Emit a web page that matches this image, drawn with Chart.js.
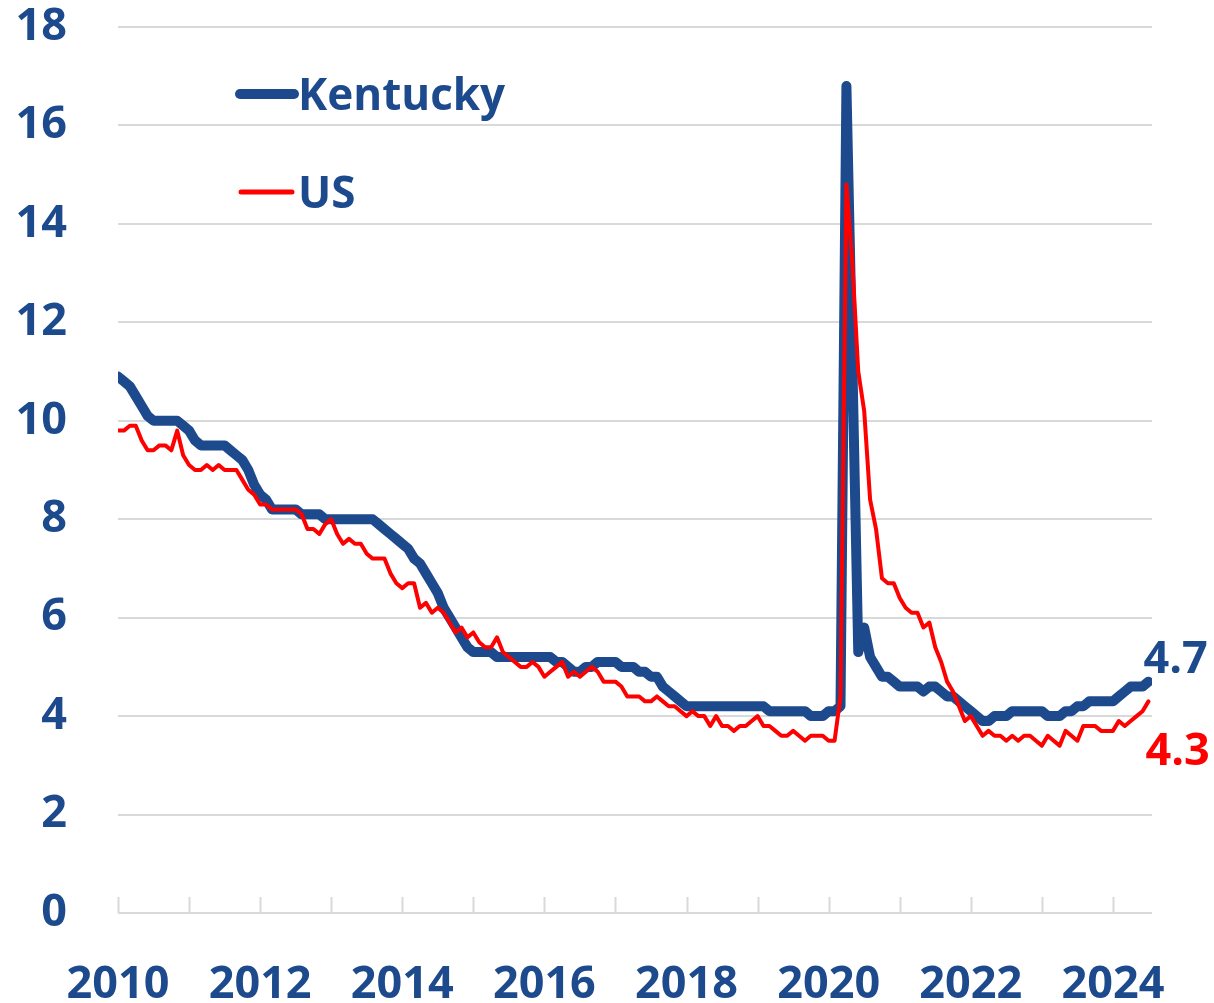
<!DOCTYPE html>
<html>
<head>
<meta charset="utf-8">
<script src="https://cdn.jsdelivr.net/npm/chart.js@4.4.1/dist/chart.umd.min.js"></script>
<style>
  html, body { margin: 0; padding: 0; background: #ffffff; }
  #wrap { width: 1214px; height: 1003px; position: relative; }
</style>
</head>
<body>
<div id="wrap"><canvas id="c" width="1214" height="1003"></canvas></div>
<script>
// ---- Data (monthly, Jan 2010 .. Jul 2024) ----
const startYear = 2010;
const seriesNames = ['Kentucky', 'US'];
const kentucky = [
  10.9, 10.8, 10.7, 10.5, 10.3, 10.1, 10.0, 10.0, 10.0, 10.0, 10.0, 9.9,
  9.8, 9.6, 9.5, 9.5, 9.5, 9.5, 9.5, 9.4, 9.3, 9.2, 9.0, 8.7,
  8.5, 8.4, 8.2, 8.2, 8.2, 8.2, 8.2, 8.1, 8.1, 8.1, 8.1, 8.0,
  8.0, 8.0, 8.0, 8.0, 8.0, 8.0, 8.0, 8.0, 7.9, 7.8, 7.7, 7.6,
  7.5, 7.4, 7.2, 7.1, 6.9, 6.7, 6.5, 6.2, 6.0, 5.8, 5.6, 5.4,
  5.3, 5.3, 5.3, 5.3, 5.2, 5.2, 5.2, 5.2, 5.2, 5.2, 5.2, 5.2,
  5.2, 5.2, 5.1, 5.1, 5.0, 4.9, 4.9, 5.0, 5.0, 5.1, 5.1, 5.1,
  5.1, 5.0, 5.0, 5.0, 4.9, 4.9, 4.8, 4.8, 4.6, 4.5, 4.4, 4.3,
  4.2, 4.2, 4.2, 4.2, 4.2, 4.2, 4.2, 4.2, 4.2, 4.2, 4.2, 4.2,
  4.2, 4.2, 4.1, 4.1, 4.1, 4.1, 4.1, 4.1, 4.1, 4.0, 4.0, 4.0,
  4.1, 4.1, 4.2, 16.8, 11.2, 5.3, 5.8, 5.2, 5.0, 4.8, 4.8, 4.7,
  4.6, 4.6, 4.6, 4.6, 4.5, 4.6, 4.6, 4.5, 4.4, 4.4, 4.3, 4.2,
  4.1, 4.0, 3.9, 3.9, 4.0, 4.0, 4.0, 4.1, 4.1, 4.1, 4.1, 4.1,
  4.1, 4.0, 4.0, 4.0, 4.1, 4.1, 4.2, 4.2, 4.3, 4.3, 4.3, 4.3,
  4.3, 4.4, 4.5, 4.6, 4.6, 4.6, 4.7
];
const us = [
  9.8, 9.8, 9.9, 9.9, 9.6, 9.4, 9.4, 9.5, 9.5, 9.4, 9.8, 9.3,
  9.1, 9.0, 9.0, 9.1, 9.0, 9.1, 9.0, 9.0, 9.0, 8.8, 8.6, 8.5,
  8.3, 8.3, 8.2, 8.2, 8.2, 8.2, 8.2, 8.1, 7.8, 7.8, 7.7, 7.9,
  8.0, 7.7, 7.5, 7.6, 7.5, 7.5, 7.3, 7.2, 7.2, 7.2, 6.9, 6.7,
  6.6, 6.7, 6.7, 6.2, 6.3, 6.1, 6.2, 6.1, 5.9, 5.7, 5.8, 5.6,
  5.7, 5.5, 5.4, 5.4, 5.6, 5.3, 5.2, 5.1, 5.0, 5.0, 5.1, 5.0,
  4.8, 4.9, 5.0, 5.1, 4.8, 4.9, 4.8, 4.9, 5.0, 4.9, 4.7, 4.7,
  4.7, 4.6, 4.4, 4.4, 4.4, 4.3, 4.3, 4.4, 4.3, 4.2, 4.2, 4.1,
  4.0, 4.1, 4.0, 4.0, 3.8, 4.0, 3.8, 3.8, 3.7, 3.8, 3.8, 3.9,
  4.0, 3.8, 3.8, 3.7, 3.6, 3.6, 3.7, 3.6, 3.5, 3.6, 3.6, 3.6,
  3.5, 3.5, 4.4, 14.8, 13.2, 11.0, 10.2, 8.4, 7.8, 6.8, 6.7, 6.7,
  6.4, 6.2, 6.1, 6.1, 5.8, 5.9, 5.4, 5.1, 4.7, 4.5, 4.2, 3.9,
  4.0, 3.8, 3.6, 3.7, 3.6, 3.6, 3.5, 3.6, 3.5, 3.6, 3.6, 3.5,
  3.4, 3.6, 3.5, 3.4, 3.7, 3.6, 3.5, 3.8, 3.8, 3.8, 3.7, 3.7,
  3.7, 3.9, 3.8, 3.9, 4.0, 4.1, 4.3
];
const xTickLabels = ['2010', '2012', '2014', '2016', '2018', '2020', '2022', '2024'];
const yTicks = [0, 2, 4, 6, 8, 10, 12, 14, 16, 18];

// ---- Styles ----
const BLUE = '#1C4A8D';
const RED = '#FF0000';
const GRID = '#D9D9D9';
const FONT = '"Open Sans", "Liberation Sans", sans-serif';

const toPoints = arr => arr.map((v, i) => ({ x: i, y: v }));

const tickMarks = {
  id: 'tickMarks',
  beforeDatasetsDraw(chart) {
    const { ctx, chartArea } = chart;
    const xs = chart.scales.x;
    ctx.save();
    ctx.strokeStyle = GRID;
    ctx.lineWidth = 2;
    for (let m = 0; m <= 168; m += 12) {
      const px = Math.round(xs.getPixelForValue(m)) + 0.5;
      ctx.beginPath();
      ctx.moveTo(px, chartArea.bottom - 16);
      ctx.lineTo(px, chartArea.bottom);
      ctx.stroke();
    }
    ctx.restore();
  }
};

const annotations = {
  id: 'annotations',
  afterDraw(chart) {
    const { ctx } = chart;
    const xs = chart.scales.x, ys = chart.scales.y;
    ctx.save();
    ctx.font = 'bold 44px ' + FONT;
    ctx.textBaseline = 'alphabetic';
    ctx.textAlign = 'left';
    // legend
    ctx.lineCap = 'round';
    ctx.strokeStyle = BLUE; ctx.lineWidth = 10;
    ctx.beginPath(); ctx.moveTo(240, 94); ctx.lineTo(294, 94); ctx.stroke();
    ctx.fillStyle = BLUE;
    ctx.fillText(seriesNames[0], 298, 110);
    ctx.strokeStyle = RED; ctx.lineWidth = 5;
    ctx.beginPath(); ctx.moveTo(241, 192); ctx.lineTo(292, 192); ctx.stroke();
    ctx.fillStyle = BLUE;
    ctx.fillText(seriesNames[1], 298, 208);
    // end labels
    ctx.font = 'bold 45px ' + FONT;
    const li = kentucky.length - 1;
    const lx = xs.getPixelForValue(li);
    ctx.fillStyle = BLUE;
    ctx.fillText(kentucky[li].toFixed(1), lx - 5, ys.getPixelForValue(kentucky[li]) - 9);
    ctx.fillStyle = RED;
    ctx.fillText(us[us.length - 1].toFixed(1), lx - 3, ys.getPixelForValue(us[us.length - 1]) + 64);
    ctx.restore();
  }
};

function build() {
  new Chart(document.getElementById('c'), {
    type: 'line',
    data: {
      datasets: [
        {
          label: seriesNames[1], data: toPoints(us), borderColor: RED, borderWidth: 4,
          pointRadius: 0, tension: 0, order: 1, borderJoinStyle: 'round', borderCapStyle: 'round'
        },
        {
          label: seriesNames[0], data: toPoints(kentucky), borderColor: BLUE, borderWidth: 10,
          pointRadius: 0, tension: 0, order: 2, borderJoinStyle: 'round', borderCapStyle: 'round'
        }
      ]
    },
    options: {
      responsive: false,
      animation: false,
      layout: { padding: { top: 27, right: 62, bottom: 0, left: 0 } },
      plugins: { legend: { display: false }, tooltip: { enabled: false } },
      scales: {
        x: {
          type: 'linear', min: 0, max: 174.6,
          afterBuildTicks: s => { s.ticks = xTickLabels.map((t, k) => ({ value: k * 24 })); },
          afterFit: s => { s.height = 90; s.paddingLeft = 0; s.paddingRight = 0; },
          grid: { display: false },
          border: { display: false },
          ticks: {
            callback: (v) => xTickLabels[Math.round(v / 24)],
            color: BLUE, font: { family: FONT, size: 45, weight: 'bold' },
            maxRotation: 0, autoSkip: false, padding: 37
          }
        },
        y: {
          min: 0, max: 18,
          afterBuildTicks: s => { s.ticks = yTicks.map(v => ({ value: v })); },
          afterFit: s => { s.width = 118; s.paddingTop = 0; s.paddingBottom = 0; },
          grid: { color: GRID, lineWidth: 2, drawTicks: false },
          border: { display: false },
          ticks: {
            color: BLUE, font: { family: FONT, size: 45, weight: 'bold' },
            padding: 51
          }
        }
      }
    },
    plugins: [tickMarks, annotations]
  });
}

let done = false;
function go() { if (!done) { done = true; build(); } }
if (document.fonts && document.fonts.load) {
  document.fonts.load('bold 45px "Open Sans"').then(go, go);
  setTimeout(go, 1500);
} else { go(); }
</script>
</body>
</html>
